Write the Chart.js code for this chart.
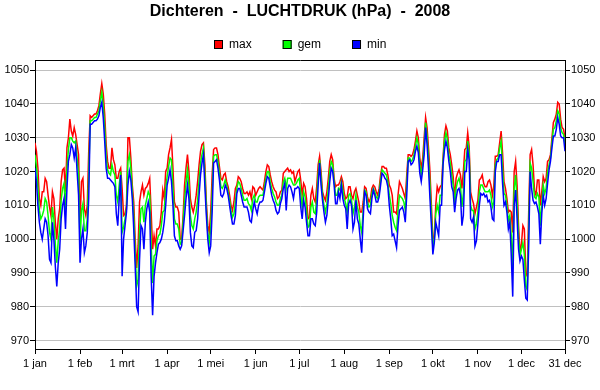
<!DOCTYPE html>
<html>
<head>
<meta charset="utf-8">
<script src="https://cdn.jsdelivr.net/npm/chart.js@4/dist/chart.umd.min.js"></script>
<style>
  body { margin: 0; background: #fff; }
  #wrap { width: 600px; height: 390px; }
</style>
</head>
<body>
<div id="wrap"><canvas id="grafiek" width="600" height="390"></canvas></div>
<script>
const titel = 'Dichteren  -  LUCHTDRUK (hPa)  -  2008';
const reeksen = ['max', 'gem', 'min'];
const kleuren = ['#ff0000', '#00ff00', '#0000ff'];

// dagnummer (0 = 1 jan) van de maandtikken, 2008 is een schrikkeljaar
const maandDagen = [0, 31, 60, 91, 121, 152, 182, 213, 244, 274, 305, 335, 365];
const maandLabels = ['1 jan', '1 feb', '1 mrt', '1 apr', '1 mei', '1 jun', '1 jul',
  '1 aug', '1 sep', '1 okt', '1 nov', '1 dec', '31 dec'];
const yTicks = [970, 980, 990, 1000, 1010, 1020, 1030, 1040, 1050];

// dagwaarden luchtdruk (hPa), 366 dagen
const luchtdrukMax = [
  1028.5,1026,1021,1012,1010,1014,1014,1018,1017,1013,
  1009.5,1007,1014,1012,1005,1000,1006,1009,1017,1020.5,
  1021,1014,1027,1030,1035.5,1032,1030.5,1033,1031,1028,
  1025,1005,1017,1018,1009,1007,1010,1026,1036.5,1036,
  1036.5,1037,1037,1038,1039.5,1043,1046,1043,1037,1028,
  1023,1021,1021,1027,1023.5,1022,1018,1018,1020,1021,
  1015,1007,1007.5,1010,1030,1030,1024,1016,1011,1000,
  991.5,998,1011,1014,1016,1013,1015,1015.5,1016.5,1018,
  1008,997,1001,998,1003,1003,1004,1008,1014.5,1012,
  1020,1021,1025,1027,1029.5,1021,1011,1009.5,1009.5,1008,
  1000,1000,1007,1016,1021,1025,1020,1012,1009.5,1008,
  1010,1013,1017,1022,1026,1028,1028.5,1022,1011,1004,
  1002,1008,1019,1026.5,1027,1027,1025,1021.5,1018,1017.5,
  1019,1019.5,1017,1015.5,1013,1010,1008.5,1011,1015,1016,
  1018.5,1018,1017,1015,1013.5,1013.5,1014,1013,1014,1012,
  1015.5,1015,1013,1014,1015,1015.5,1015,1014.5,1017,1020,
  1022,1021.5,1019,1017,1015.5,1014.5,1014,1012,1012.5,1014,
  1014.5,1019.5,1020,1020.5,1021,1020,1020.5,1019.5,1020,1017,
  1018.5,1020,1020.5,1017.5,1013,1016.5,1015.5,1012,1006,1006.5,
  1013,1015,1012,1011,1015.5,1022,1024.5,1020,1014,1012.5,
  1011.5,1014,1018,1023,1025,1023.5,1018,1015.5,1016,1016,
  1017,1018.5,1017,1013.5,1012,1012.5,1015.5,1015.5,1013,1012,
  1014,1015,1013,1011,1008,1008,1011,1015.5,1015,1012.5,
  1011,1012,1015,1016,1015.5,1014,1013,1015,1019,1021.5,
  1021.5,1021,1021,1019,1016,1015,1013,1008,1008,1007.5,
  1013,1017,1016,1015,1013.5,1012,1019,1025,1025,1024.5,
  1025,1026.5,1029,1032,1030,1024,1021,1024,1030,1036,
  1033,1027,1020,1010,1000,1001,1010,1015.5,1014,1015.5,
  1016,1024,1031,1033.5,1032,1027,1025,1022,1018.5,1012,
  1018,1019.5,1020.5,1019,1015,1020,1026.5,1027,1031.5,1027.5,
  1014,1012,1010.5,1007.5,1009.5,1011.5,1017.5,1018,1019,1016.5,
  1015.5,1015.5,1017,1017.5,1016,1013,1016,1024.5,1024.5,1025,
  1028.5,1032,1025.5,1017,1015,1012,1008,1008.5,1008,1002,
  1020,1023,1016,1004,996,998.5,1004,1003,990,989,
  1008,1025,1026.5,1022,1014.5,1013,1017.5,1017.5,1010,1014,
  1018.5,1017,1018,1023,1023.5,1025,1030,1034.5,1035.5,1037,
  1040.5,1040,1035.5,1033,1032.5,1030
];

const luchtdrukGem = [
  1025,1021.5,1015.5,1008.5,1006,1007,1008.5,1012,1011,1007,
  1002,1000,1009.5,1006,998.5,993,999.5,1003,1011.5,1015,
  1016.5,1008.5,1021,1026.5,1030,1030,1029,1028.5,1029,1024,
  1019,999,1008.5,1010.5,1002.5,1002.5,1006,1019,1035,1035,
  1035.5,1036,1036,1037,1038,1041,1043.5,1039.5,1033,1024.5,
  1020.5,1019.5,1019,1022,1020,1019,1013,1011,1016,1020,
  1002,1003.5,1006,1009,1023,1025,1021,1014,1007,996,
  986,988,1002.5,1009,1009.5,1005,1010,1012,1014,1013,
  998.5,987,995,995.5,999.5,1001,1001.5,1004,1008,1008.5,
  1015,1018.5,1021.5,1024,1023.5,1015.5,1006,1004.5,1004.5,1003,
  998.5,999,1005,1011.5,1016.5,1020.5,1016,1007,1004,1003,
  1006,1008,1011.5,1017.5,1022.5,1025,1027,1019,1009,1002,
  999,1003,1013.5,1024.5,1025,1025,1023,1019.5,1015.5,1015,
  1016,1017.5,1016,1014,1011.5,1008.5,1006.5,1007.5,1011,1015,
  1017,1016.5,1015,1013,1011.5,1011.5,1012,1010.5,1010,1008.5,
  1012,1013,1011,1011,1012.5,1013,1013,1013,1015.5,1018,
  1020,1020,1017,1015,1013.5,1012.5,1011,1010,1010,1012,
  1013,1017,1018,1015,1018,1018,1018,1017,1016,1016,
  1016.5,1017.5,1018,1013.5,1009.5,1014,1012.5,1008.5,1003.5,1004,
  1009.5,1011,1008,1007.5,1012,1019,1023.5,1018,1013,1010,
  1008,1010.5,1015,1020,1023,1022,1017,1013,1013,1015,
  1014.5,1017,1014.5,1012,1010.5,1008,1013,1013.5,1011.5,1007.5,
  1009.5,1013,1009.5,1008,1004,1002,1008.5,1014.5,1014,1011,
  1009.5,1010,1013.5,1015,1014,1012.5,1012,1013.5,1017.5,1020.5,
  1020,1019.5,1019,1017,1013,1010.5,1007,1005,1003.5,1002.5,
  1008.5,1013,1012.5,1012,1011,1008.5,1016,1024,1024,1023,
  1023.5,1025,1027.5,1030,1028,1022,1019,1022,1027.5,1034.5,
  1030.5,1024,1016,1007,997.5,1000,1007.5,1010,1008,1013,
  1013,1023,1029,1031.5,1029.5,1025,1022.5,1019,1016,1010,
  1015,1017,1018,1016,1009.5,1013.5,1023,1023.5,1029,1025.5,
  1010,1008.5,1008.5,1003,1004.5,1008,1014,1016,1016,1015,
  1014,1014,1014,1014.5,1013,1009.5,1011,1022,1023.5,1024,
  1027,1029,1021,1013.5,1013,1010,1005.5,1007,1001,991,
  1015,1019,1011,1000.5,995,997,999,995.5,986,985,
  1003,1022.5,1021,1017,1012.5,1012,1013.5,1012.5,1004,1010.5,
  1016,1013.5,1015,1020,1022,1024,1028.5,1032.5,1033,1035,
  1038,1037,1033,1031.5,1031,1028
];

const luchtdrukMin = [
  1021,1017,1010,1005,1002,1000,1003,1006,1005,1001,
  994,993,1005,1000,992,986,993,997,1006,1010,
  1012,1003,1015,1023,1025,1028,1027,1024,1027,1020,
  1013,993,1000,1003,996,998,1002,1012,1034,1034,
  1034.5,1035,1035,1035.5,1036.5,1039,1040.5,1036,1029,1021,
  1018,1018,1017.5,1017,1016.5,1015.5,1007.5,1004,1012,1019,
  989,1000,1004,1008,1016,1020,1017.5,1012,1003,992,
  980,978.5,994,1004,1003,997,1005,1009,1011,1008,
  989,977.5,989,993,996,998.5,999,1000,1002,1005,
  1010,1016,1018,1020.5,1017,1010,1001,999.5,999.5,998,
  997,998,1002.5,1007,1012,1016,1012,1002,998,997.5,
  1002,1002.5,1006,1013,1019,1022.5,1025,1015.5,1007,1000,
  996,998,1008,1022.5,1023,1023.5,1021,1017.5,1013,1012.5,
  1013.5,1016,1015,1013,1010,1007,1004.5,1004.5,1007,1013.5,
  1015,1015,1013,1011,1009.5,1009.5,1009.5,1008,1005.5,1005,
  1008.5,1011,1009,1007.5,1010,1011,1011,1011.5,1014,1016.5,
  1018.5,1018,1015.5,1013,1011.5,1010.5,1008.5,1007.5,1008,1010.5,
  1012,1015,1016.5,1008.5,1015,1016,1015.5,1014,1012,1015,
  1015,1015.5,1015,1009.5,1006,1011.5,1009.5,1005,1001,1001,
  1006,1006,1004.5,1004,1008,1016,1022.5,1016,1011.5,1008,
  1005,1007,1012,1017,1021,1020,1016,1010.5,1010.5,1014,
  1012,1016,1012,1010,1009,1003,1010.5,1011.5,1010,1003,
  1005,1011.5,1006,1004.5,1000,996,1006,1014,1013,1009,
  1008,1007.5,1012,1014.5,1013,1011,1011,1012.5,1016,1019.5,
  1019,1018,1017.5,1015.5,1010,1006,1001,1001.5,999.5,997.5,
  1004,1008.5,1009,1009.5,1008,1005,1013,1023,1023.5,1022,
  1022.5,1023.5,1026,1027.5,1025.5,1019.5,1017,1020.5,1025,1033,
  1028,1021,1012,1004,995.5,999,1005,1003,1001,1010,
  1010,1022,1026.5,1029,1027,1023,1020,1015.5,1014,1008,
  1012,1014.5,1015,1013,1004,1007,1020,1020,1026.5,1023.5,
  1006,1005,1006.5,998,999.5,1004.5,1010,1013.5,1013,1013.5,
  1012.5,1013,1011,1011.5,1009.5,1006,1005.5,1020,1023,1023,
  1025,1025,1016.5,1010,1011,1008,1003,1005,995,983,
  1010,1014.5,1006,997,993.5,995,994,988,982.5,982,
  998,1020,1015,1011.5,1010.5,1011,1009.5,1007.5,998.5,1007.5,
  1013,1010,1012,1016.5,1020.5,1023,1027,1030.5,1030.5,1032.5,
  1036,1034,1030.5,1030,1030,1026
];

const dagen = luchtdrukMax.map((v, i) => i);
const lettertype = '"Liberation Sans", Arial, sans-serif';

// titel en legenda boven het grafiekvlak
const kopPlugin = {
  id: 'kop',
  afterDraw(chart) {
    const ctx = chart.ctx;
    ctx.save();
    ctx.fillStyle = '#000';
    ctx.font = 'bold 16px ' + lettertype;
    ctx.textAlign = 'center';
    ctx.textBaseline = 'middle';
    ctx.fillText(titel, 300, 12);

    ctx.font = '12px ' + lettertype;
    ctx.textAlign = 'left';
    const breedtes = reeksen.map(t => ctx.measureText(t).width);
    const totaal = breedtes.reduce((a, b) => a + b, 0) + reeksen.length * 15 + (reeksen.length - 1) * 31;
    let x = Math.round(300 - totaal / 2);
    reeksen.forEach((naam, i) => {
      ctx.fillStyle = kleuren[i];
      ctx.fillRect(x, 40, 9, 9);
      ctx.strokeStyle = '#000';
      ctx.lineWidth = 1;
      ctx.strokeRect(x + 0.5, 40.5, 8, 8);
      ctx.fillStyle = '#000';
      ctx.fillText(naam, x + 15, 45);
      x += 15 + breedtes[i] + 31;
    });
    ctx.restore();
  }
};

const yAs = (positie) => ({
  position: positie,
  min: 967.5,
  max: 1053,
  afterBuildTicks: s => { s.ticks = yTicks.map(v => ({ value: v })); },
  afterFit: s => { s.width = 35; },
  ticks: { padding: 1, color: '#000', font: { family: lettertype, size: 11 }, callback: v => String(v) },
  grid: { color: '#c0c0c0', tickColor: '#000', tickLength: 5, drawOnChartArea: positie === 'left' },
  border: { color: '#000', width: 1 }
});

new Chart(document.getElementById('grafiek'), {
  type: 'line',
  data: {
    labels: dagen,
    datasets: [
      { label: reeksen[0], data: luchtdrukMax, borderColor: kleuren[0], order: 3 },
      { label: reeksen[1], data: luchtdrukGem, borderColor: kleuren[1], order: 2 },
      { label: reeksen[2], data: luchtdrukMin, borderColor: kleuren[2], order: 1 }
    ]
  },
  options: {
    responsive: false,
    animation: false,
    devicePixelRatio: 1,
    layout: { padding: { top: 60, left: 0, right: 0, bottom: 0 } },
    elements: {
      point: { radius: 0 },
      line: { borderWidth: 1.5, tension: 0, fill: false }
    },
    plugins: {
      legend: { display: false },
      title: { display: false },
      tooltip: { enabled: false }
    },
    scales: {
      x: {
        type: 'linear',
        position: 'bottom',
        min: 0,
        max: 365,
        afterBuildTicks: s => { s.ticks = maandDagen.map(v => ({ value: v })); },
        afterFit: s => { s.height = 41; },
        ticks: {
          autoSkip: false,
          maxRotation: 0,
          padding: 3,
          color: '#000',
          font: { family: lettertype, size: 11 },
          callback: (v, i) => maandLabels[i]
        },
        grid: { drawOnChartArea: false, tickLength: 5, tickColor: '#000' },
        border: { color: '#000', width: 1 }
      },
      xBoven: {
        type: 'linear',
        position: 'top',
        min: 0,
        max: 365,
        afterFit: s => { s.height = 0; },
        ticks: { display: false },
        grid: { display: false, drawTicks: false },
        border: { color: '#000', width: 1 }
      },
      y: yAs('left'),
      y2: yAs('right')
    }
  },
  plugins: [kopPlugin]
});
</script>
</body>
</html>
